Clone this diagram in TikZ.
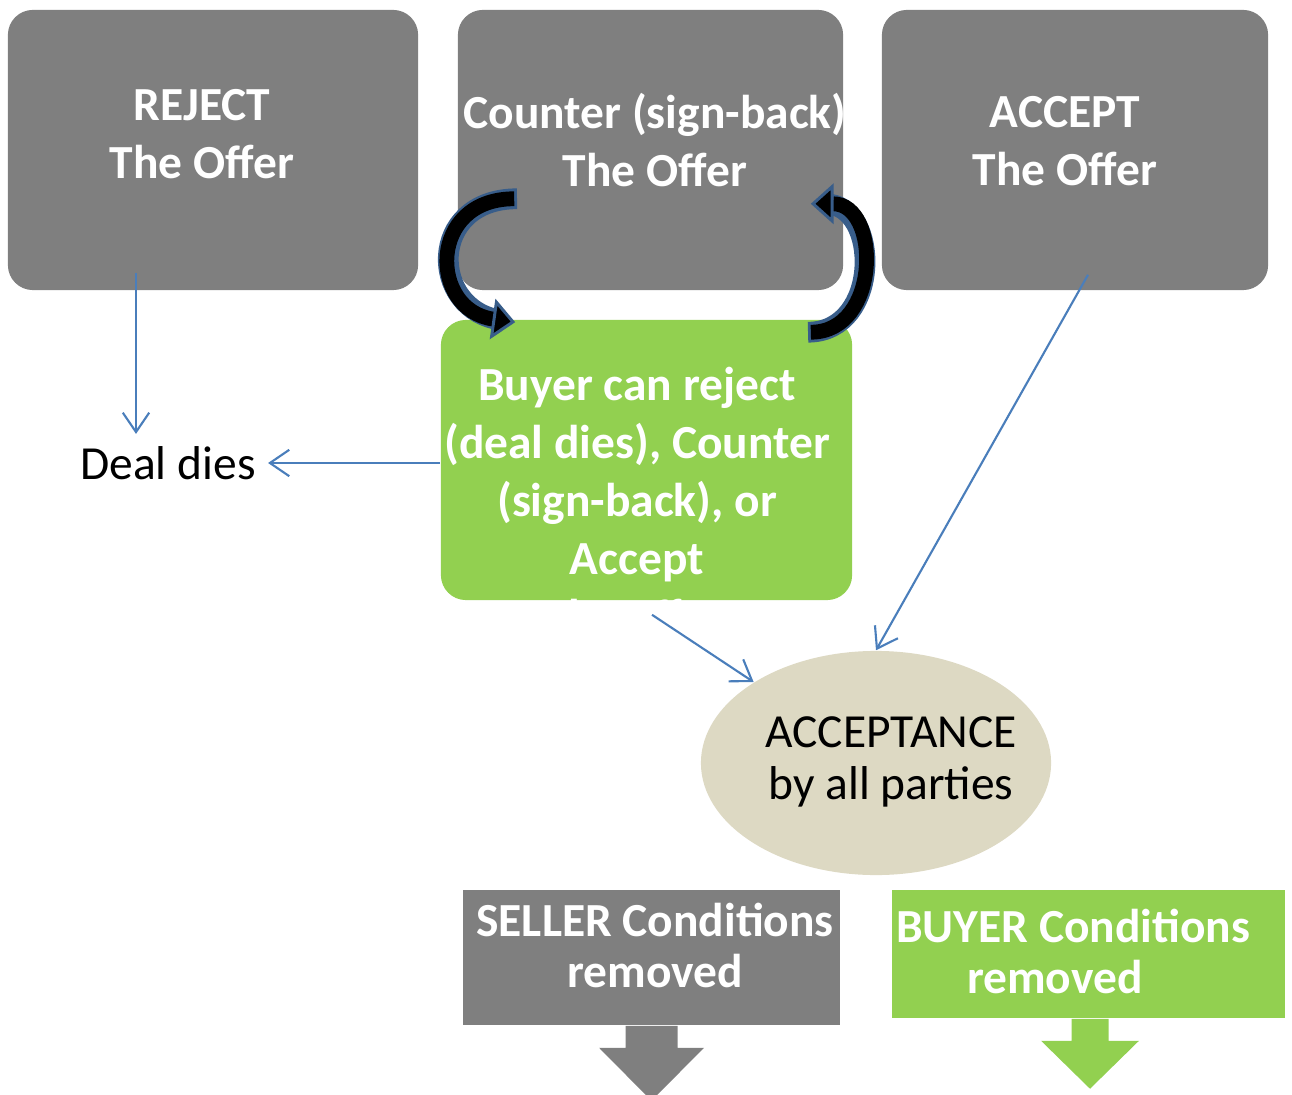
\documentclass[tikz,border=0pt]{standalone}
\usepackage{fontspec}
\setmainfont{Carlito}
\usetikzlibrary{shapes.geometric,arrows.meta,positioning,calc}
\definecolor{boxgrey}{HTML}{7F7F7F}
\definecolor{boxgreen}{HTML}{92D050}
\definecolor{ovaltan}{HTML}{DDD9C3}
\definecolor{lineblue}{HTML}{4A7EBB}
\definecolor{edgeblue}{HTML}{385D8A}
\tikzstyle{GreyBox} = [shape=rectangle, fill=boxgrey, rounded corners=0.25cm, minimum height=2.8cm, inner sep=0pt]
\tikzstyle{GreenBox} = [shape=rectangle, fill=boxgreen, rounded corners=0.25cm, minimum width=4.11cm, minimum height=2.8cm, inner sep=0pt]
\tikzstyle{FlatBox} = [shape=rectangle, inner sep=0pt]
\tikzstyle{Oval} = [shape=ellipse, fill=ovaltan, minimum width=3.5cm, minimum height=2.24cm, inner sep=0pt]
\tikzstyle{BoxText} = [text=white, font=\fontsize{13.5}{16.5}\selectfont\bfseries, align=center]
\tikzstyle{PlainText} = [text=black, font=\fontsize{13.5}{14.8}\selectfont, align=center]
\tikzstyle{Arrow} = [-{Straight Barb[length=5.5pt,width=7.5pt]}, draw=lineblue, line width=0.6pt]
\tikzstyle{SwingEdge} = [draw=edgeblue, line width=5.9pt, shorten >=4pt, shorten <=-0.8pt]
\tikzstyle{Swing} = [draw=black, line width=4.2pt, -{Triangle[length=6.5pt,width=11.5pt,line width=0.85pt,color=edgeblue,fill=black]}]

\begin{document}
\begin{tikzpicture}[x=0.01cm, y=-0.01cm]
        \useasboundingbox (0,0) rectangle (1292,1095);

        %%%%% Top Line %%%%%

        \draw (213,150) node[GreyBox, minimum width=4.1cm] (A) {};
        \node[BoxText] at ($(A)+(-11,-16)$) (At) {REJECT\\The Offer};
        \draw node[GreyBox, minimum width=3.85cm] at ($(A)+(437.5,0)$) (B) {};
        \node[BoxText] at ($(B)+(4.5,-10)$) (Bt) {Counter (sign-back)\\The Offer};
        \draw node[GreyBox, minimum width=3.86cm] at ($(B)+(424.5,0)$) (C) {};
        \node[BoxText] at ($(C)+(-10,-9)$) (Ct) {ACCEPT\\The Offer};

        %%%%% Second Line %%%%%

        \draw node[GreenBox] at ($(B)+(-4,310)$) (D) {};
        \begin{scope}
            \clip ($(D.south west)+(0,7)$) rectangle (D.north east);
            \node[BoxText] at ($(D)+(-9.5,40)$) (Dt) {Buyer can reject\\(deal dies), Counter\\(sign-back), or\\Accept\\the offer};
        \end{scope}
        \node[PlainText] at (168,463) (F) {Deal dies};

        %%%%% Third Line %%%%%

        \draw node[Oval] at (876,763) (E) {};
        \node[PlainText] at ($(E)+(15,-1)$) (Et) {ACCEPTANCE\\by all parties};

        %%%%% Bottom Line %%%%%

        \draw node[FlatBox, fill=boxgrey, minimum width=3.77cm, minimum height=1.35cm] at (651.5,957.5) (G) {};
        \node[BoxText, font=\fontsize{13.5}{14.5}\selectfont\bfseries] at ($(G)+(3.5,-12)$) (Gt) {SELLER Conditions\\removed};
        \draw node[FlatBox, fill=boxgreen, minimum width=3.93cm, minimum height=1.28cm] at (1088.5,954) (H) {};
        \node[BoxText, font=\fontsize{13.5}{14.5}\selectfont\bfseries] at ($(H)+(-15.5,-3)$) (Ht) {BUYER Conditions\\removed\hspace*{0.36cm}};

        \fill[boxgrey] ($(G.south)+(-26,0)$) -- ++(0,22) -- ++(-26.5,0) -- ($(G.south)+(0,75)$)
            -- ($(G.south)+(52.5,22)$) -- ++(-26.5,0) -- ++(0,-22) -- cycle;
        \fill[boxgreen] ($(H.south)+(-17,0)$) -- ++(0,22) -- ++(-30.5,0) -- ($(H.south)+(1.5,70)$)
            -- ($(H.south)+(50.5,22)$) -- ++(-30.5,0) -- ++(0,-22) -- cycle;

        %%%%% Connecting Arrows %%%%%

        \coordinate (a1) at ($(A.south)+(-77,-18)$);
        \coordinate (c1) at ($(C.south)+(13,-16)$);
        \coordinate (d1) at ($(D.south)+(5.5,14)$);

        \draw [Arrow] (a1) -- (a1 |- F.north);
        \draw [Arrow] (D.west |- F) -- (F.east);
        \draw [Arrow] (d1) -- (E);
        \draw [Arrow] (c1) -- (E.north);

        %%%%% Sign-back Loop %%%%%

        \coordinate (l1) at ($(B.south west)+(57,-92)$);
        \coordinate (l2) at ($(D.north west)+(75,3)$);
        \coordinate (r1) at ($(D.north east)+(-42,13)$);
        \coordinate (r2) at ($(B.south east)+(-33,-87)$);

        \draw [SwingEdge] (l1) to[out=180, in=172, looseness=1.8] (l2);
        \draw [Swing] (l1) to[out=180, in=172, looseness=1.8] (l2);
        \draw [SwingEdge] (r1) to[out=0, in=0, looseness=1.4] (r2);
        \draw [Swing] (r1) to[out=0, in=0, looseness=1.4] (r2);

\end{tikzpicture}
\end{document}
